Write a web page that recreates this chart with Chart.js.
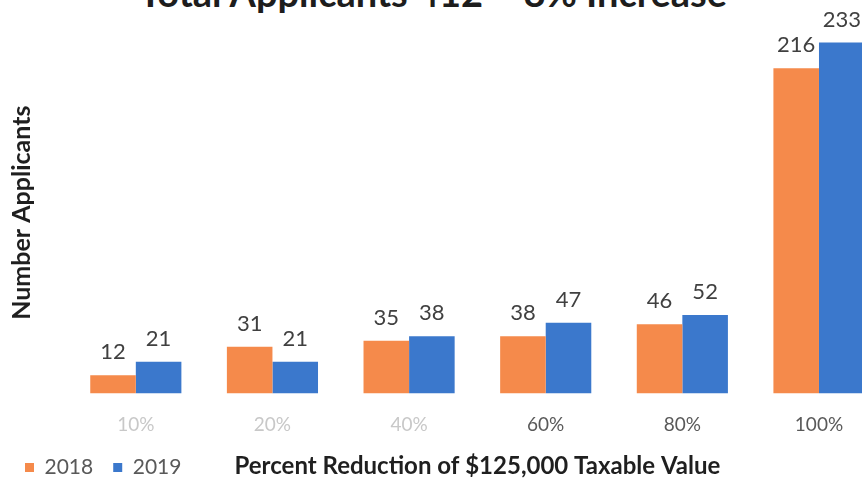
<!DOCTYPE html>
<html>
<head>
<meta charset="utf-8">
<script src="https://cdn.jsdelivr.net/npm/chart.js@4"></script>
<style>
    html, body { margin: 0; padding: 0; background: #fff; overflow: hidden; }
    #wrap { position: relative; width: 862px; height: 481px; overflow: hidden; }
    #title {
        position: absolute; left: 0; top: -26.7px; width: 866px; margin: 0;
        text-align: center; font: bold 38px Lato, sans-serif; line-height: 38px;
        color: #1d1d1d; white-space: nowrap;
    }
    #applicants-chart { position: absolute; left: 0; top: 0; }
</style>
</head>
<body>
<div id="wrap">
    <h1 id="title">Total Applicants 412 – 8% Increase</h1>
    <canvas id="applicants-chart" width="900" height="488"></canvas>
</div>
<script>
const categories = ['10%', '20%', '40%', '60%', '80%', '100%'];
const applicants2018 = [12, 31, 35, 38, 46, 216];
const applicants2019 = [21, 21, 38, 47, 52, 233];

Chart.defaults.font.family = 'Lato, sans-serif';

// writes each bar's value just above it
const barValues = {
    id: 'barValues',
    afterDatasetsDraw(chart) {
        const ctx = chart.ctx;
        ctx.save();
        ctx.font = '22px Lato, sans-serif';
        ctx.fillStyle = '#404040';
        ctx.textAlign = 'center';
        ctx.textBaseline = 'middle';
        chart.data.datasets.forEach((ds, i) => {
            chart.getDatasetMeta(i).data.forEach((bar, j) => {
                ctx.fillText(ds.data[j], bar.x, bar.y - 23);
            });
        });
        ctx.restore();
    }
};

const ctx = document.getElementById('applicants-chart').getContext('2d');

new Chart(ctx, {
    type: 'bar',
    data: {
        labels: categories,
        datasets: [{
            label: '2018',
            data: applicants2018,
            backgroundColor: '#F58A4B',
            barPercentage: 1,
            categoryPercentage: 0.667
        }, {
            label: '2019',
            data: applicants2019,
            backgroundColor: '#3B78CC',
            barPercentage: 1,
            categoryPercentage: 0.667
        }]
    },
    options: {
        responsive: false,
        animation: false,
        devicePixelRatio: 1,
        layout: {
            padding: { top: 32, left: 5, right: 12.7, bottom: 0 }
        },
        plugins: {
            tooltip: { enabled: false },
            legend: {
                position: 'bottom',
                align: 'start',
                labels: {
                    boxWidth: 9,
                    boxHeight: 9,
                    padding: 20,
                    color: '#595959',
                    font: { size: 21 }
                }
            }
        },
        scales: {
            x: {
                grid: { display: false, drawTicks: false },
                border: { display: false },
                ticks: {
                    padding: 20,
                    font: { size: 19 },
                    color: c => c.index < 3 ? '#c8c8c8' : '#595959'
                },
                title: {
                    display: true,
                    text: 'Percent Reduction of $125,000 Taxable Value',
                    color: '#1f1f1f',
                    font: { size: 24, weight: 'bold' },
                    padding: { top: -4.4, bottom: -43.6 }
                }
            },
            y: {
                min: 0,
                max: 240,
                grid: { display: false, drawTicks: false },
                border: { display: false },
                ticks: { display: false },
                title: {
                    display: true,
                    text: 'Number Applicants',
                    color: '#1f1f1f',
                    font: { size: 25, weight: 'bold' },
                    padding: { top: 2, bottom: 0 }
                },
                afterFit(scale) {
                    scale.width = 62.5;
                }
            }
        }
    },
    plugins: [barValues]
});
</script>
</body>
</html>
